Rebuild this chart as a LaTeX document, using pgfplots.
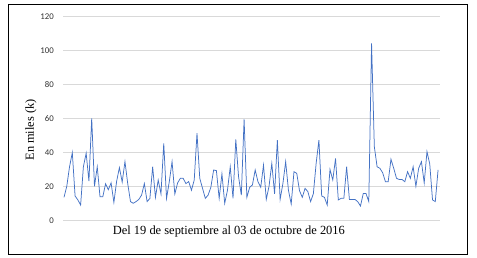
\documentclass[border=0pt]{standalone}
\usepackage{pgfplots}
\pgfplotsset{compat=1.18}
\usepackage{fontspec}
\setmainfont{Liberation Serif}
\newfontfamily\calibri{Carlito}
\definecolor{lineblue}{RGB}{68,114,196}
\definecolor{gridgray}{RGB}{217,217,217}
\definecolor{ticktext}{RGB}{50,50,50}
\begin{document}
\begin{tikzpicture}
\useasboundingbox (0,0) rectangle (477bp,258bp);
\draw[line width=0.8bp] (8.5bp,3.7bp) rectangle (467.5bp,254bp);
\begin{axis}[
  at={(63bp,37.7bp)}, anchor=south west,
  scale only axis, width=377bp, height=204bp,
  xmin=-0.36, xmax=135.7, ymin=0, ymax=120,
  ytick={0,20,...,120}, xtick=\empty,
  ymajorgrids, grid style={gridgray, line width=0.8bp},
  axis line style={draw=none}, major tick style={draw=none},
  /pgf/number format/assume math mode=true,
  yticklabel style={font=\calibri\fontsize{8.8}{9}\selectfont, text=ticktext, anchor=east, inner sep=0pt, xshift=-9bp},
  ylabel={En miles (k)},
  ylabel style={at={(axis description cs:-0.085,0.443)}, anchor=center, rotate=0, font=\fontsize{12.4}{12.4}\selectfont},
  xlabel={Del 19 de septiembre al 03 de octubre de 2016},
  xlabel style={at={(axis description cs:0.44,-0.057)}, anchor=center, font=\fontsize{12.5}{12.5}\selectfont},
  clip=false
]
\addplot[lineblue, line width=0.75bp, mark=none] coordinates {
(0,13.5)(1,20)(2,31.5)(3,39.8)(4,14.3)(5,12)(6,9)(7,31.5)(8,39.5)(9,23)
(10,60)(11,20)(12,31.5)(13,13.8)(14,13.8)(15,21.5)(16,18)(17,22)(18,10.5)(19,23)
(20,31)(21,22.5)(22,34.5)(23,21.6)(24,11)(25,10)(26,11)(27,12.3)(28,14.8)(29,21.6)
(30,11)(31,12.9)(32,31.5)(33,13.5)(34,23.7)(35,15.5)(36,45.3)(37,12.9)(38,22.7)(39,34.5)
(40,15.5)(41,22)(42,24.7)(43,24.7)(44,21.6)(45,22.8)(46,17.7)(47,23.7)(48,51.2)(49,24.7)
(50,18.8)(51,12.9)(52,14.8)(53,19.4)(54,29.6)(55,29.2)(56,12.9)(57,27.3)(58,10)(59,17.7)
(60,31.5)(61,12.9)(62,47.6)(63,25.6)(64,14.8)(65,59.4)(66,13.5)(67,19.4)(68,20.8)(69,29.6)
(70,22.7)(71,19.4)(72,32.5)(73,12.3)(74,20)(75,33.5)(76,15.5)(77,47.2)(78,12.3)(79,21.6)
(80,34.5)(81,17.7)(82,9.6)(83,28.6)(84,27.6)(85,17.4)(86,13.5)(87,18.8)(88,16.9)(89,11)
(90,15.7)(91,33.5)(92,47.2)(93,14.3)(94,13.5)(95,9)(96,29.9)(97,23.7)(98,36.4)(99,12)
(100,12.9)(101,12.9)(102,31.5)(103,12.3)(104,12.3)(105,12.3)(106,11)(107,8.4)(108,15.7)(109,15.7)
(110,11)(111,104)(112,43.3)(113,31.5)(114,30.6)(115,28)(116,22.7)(117,22.7)(118,35.9)(119,30.6)
(120,24.7)(121,24)(122,24)(123,22.7)(124,28.6)(125,24.7)(126,31.5)(127,20)(128,30.6)(129,34.5)
(130,22)(131,40.4)(132,33.1)(133,12)(134,11)(135,29.6)
};
\end{axis}
\end{tikzpicture}
\end{document}
